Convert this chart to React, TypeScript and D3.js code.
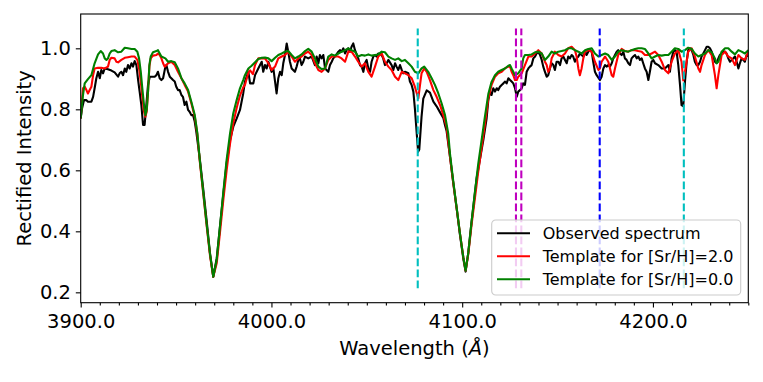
import React, { useEffect, useRef } from "react";
import * as d3 from "d3";

// wavelength (A), rectified intensity
const observed: [number, number][] = [
  [3900.0, 0.770], [3900.7, 0.803], [3901.7, 0.830], [3903.0, 0.830], [3903.8, 0.825], [3905.6, 0.825], [3906.5, 0.841],
  [3907.3, 0.869], [3908.2, 0.902], [3909.1, 0.923], [3910.0, 0.902], [3910.8, 0.929], [3911.7, 0.918], [3912.6, 0.934],
  [3914.3, 0.931], [3916.1, 0.927], [3917.8, 0.921], [3919.6, 0.907], [3920.4, 0.918], [3921.3, 0.923], [3922.2, 0.912],
  [3923.1, 0.934], [3923.9, 0.923], [3924.8, 0.945], [3925.7, 0.934], [3926.6, 0.951], [3927.4, 0.940], [3928.3, 0.958],
  [3929.2, 0.945], [3930.1, 0.896], [3930.9, 0.858], [3931.8, 0.814], [3932.7, 0.749], [3933.5, 0.749], [3934.4, 0.814],
  [3935.3, 0.880], [3936.2, 0.907], [3937.0, 0.907], [3938.8, 0.907], [3939.7, 0.912], [3940.5, 0.923], [3941.4, 0.902],
  [3942.3, 0.896], [3943.2, 0.902], [3944.4, 0.940], [3944.9, 0.945], [3945.8, 0.923], [3946.7, 0.907], [3947.5, 0.902],
  [3948.4, 0.896], [3949.3, 0.891], [3950.1, 0.874], [3951.0, 0.863], [3951.9, 0.863], [3952.8, 0.847], [3953.6, 0.841],
  [3954.5, 0.814], [3955.4, 0.825], [3956.3, 0.798], [3957.1, 0.792], [3958.0, 0.781], [3958.9, 0.781], [3959.8, 0.759],
  [3960.6, 0.727], [3962.5, 0.634], [3964.3, 0.535], [3966.0, 0.437], [3967.8, 0.328], [3969.5, 0.251], [3971.3, 0.311],
  [3973.0, 0.415], [3974.8, 0.524], [3976.5, 0.623], [3978.3, 0.699], [3980.0, 0.743], [3981.8, 0.770], [3983.5, 0.798],
  [3985.2, 0.852], [3986.1, 0.891], [3987.9, 0.923], [3988.8, 0.885], [3990.5, 0.885], [3991.4, 0.912], [3993.1, 0.934],
  [3994.9, 0.956], [3995.7, 0.923], [3996.6, 0.945], [3997.5, 0.934], [3998.4, 0.956], [3999.2, 0.940], [4000.1, 0.923],
  [4001.0, 0.934], [4001.9, 0.891], [4002.7, 0.852], [4003.6, 0.902], [4004.5, 0.923], [4005.4, 0.912], [4006.2, 0.951],
  [4007.1, 0.978], [4008.0, 1.016], [4008.8, 0.989], [4009.7, 0.956], [4010.6, 0.934], [4012.3, 0.923], [4013.2, 0.940],
  [4014.1, 0.962], [4014.9, 0.967], [4015.8, 0.945], [4016.7, 0.956], [4017.6, 0.973], [4019.3, 0.967], [4021.1, 0.973],
  [4022.8, 0.945], [4023.7, 0.973], [4024.6, 0.951], [4025.4, 0.978], [4026.3, 0.967], [4027.2, 0.978], [4028.1, 0.934],
  [4029.8, 0.923], [4030.7, 0.945], [4031.6, 0.956], [4032.4, 0.967], [4033.3, 0.973], [4035.1, 0.989], [4035.9, 0.994],
  [4036.8, 0.989], [4037.7, 1.000], [4038.6, 0.983], [4039.4, 0.994], [4040.3, 1.000], [4041.2, 0.989], [4042.0, 1.005],
  [4042.9, 1.016], [4043.8, 0.994], [4045.5, 0.967], [4046.4, 0.945], [4047.3, 0.940], [4048.2, 0.923], [4049.0, 0.951],
  [4049.9, 0.962], [4050.8, 0.934], [4051.7, 0.923], [4052.5, 0.956], [4053.4, 0.973], [4054.3, 0.978], [4055.1, 0.973],
  [4056.0, 0.983], [4057.8, 0.978], [4058.6, 0.967], [4059.5, 0.945], [4060.4, 0.951], [4061.3, 0.962], [4063.0, 0.945],
  [4063.9, 0.929], [4064.8, 0.951], [4065.6, 0.940], [4066.5, 0.929], [4067.4, 0.945], [4068.3, 0.929], [4069.1, 0.918],
  [4070.0, 0.923], [4071.8, 0.918], [4072.6, 0.891], [4073.5, 0.880], [4074.4, 0.858], [4075.2, 0.803], [4076.1, 0.727],
  [4076.9, 0.661], [4077.5, 0.668], [4078.7, 0.776], [4079.6, 0.835], [4081.4, 0.862], [4083.1, 0.855], [4084.9, 0.825],
  [4086.6, 0.810], [4088.4, 0.790], [4090.1, 0.772], [4091.0, 0.748], [4091.8, 0.730], [4093.6, 0.645], [4095.3, 0.560],
  [4097.1, 0.475], [4098.8, 0.390], [4100.6, 0.310], [4101.8, 0.268], [4103.2, 0.330], [4104.9, 0.430], [4106.2, 0.500],
  [4107.6, 0.575], [4109.3, 0.635], [4111.1, 0.700], [4112.8, 0.770], [4113.7, 0.830], [4114.6, 0.858], [4115.4, 0.847],
  [4116.3, 0.869], [4117.2, 0.858], [4118.1, 0.869], [4118.9, 0.863], [4119.8, 0.874], [4120.7, 0.880], [4121.6, 0.885],
  [4122.4, 0.891], [4123.3, 0.885], [4124.2, 0.902], [4125.1, 0.896], [4125.9, 0.891], [4126.8, 0.885], [4127.7, 0.869],
  [4128.6, 0.841], [4129.4, 0.858], [4130.3, 0.863], [4131.2, 0.869], [4132.0, 0.885], [4132.9, 0.880], [4133.8, 0.923],
  [4134.7, 0.934], [4135.5, 0.940], [4136.4, 0.945], [4137.3, 0.967], [4138.2, 0.973], [4139.0, 0.983], [4139.9, 0.989],
  [4140.8, 0.978], [4141.7, 0.962], [4142.5, 0.940], [4143.4, 0.923], [4144.3, 0.907], [4145.1, 0.912], [4146.0, 0.934],
  [4146.9, 0.951], [4147.8, 0.945], [4148.6, 0.929], [4149.5, 0.956], [4150.4, 0.956], [4151.3, 0.945], [4152.1, 0.967],
  [4153.0, 0.973], [4153.9, 0.962], [4154.8, 0.951], [4155.6, 0.973], [4156.5, 0.967], [4157.4, 0.978], [4158.2, 0.973],
  [4159.1, 0.956], [4160.0, 0.967], [4160.9, 0.973], [4161.7, 0.983], [4162.6, 0.978], [4163.5, 0.973], [4164.4, 0.989],
  [4165.2, 0.978], [4166.1, 0.989], [4167.0, 0.994], [4167.9, 0.989], [4168.7, 0.956], [4169.6, 0.923], [4170.5, 0.912],
  [4172.2, 0.896], [4173.1, 0.907], [4174.0, 0.934], [4174.9, 0.945], [4175.7, 0.940], [4176.6, 0.945], [4177.5, 0.940],
  [4178.4, 0.951], [4179.2, 0.967], [4180.1, 0.978], [4181.0, 0.989], [4181.8, 0.994], [4182.7, 0.983], [4183.6, 0.978],
  [4184.5, 0.989], [4185.3, 0.967], [4186.2, 0.962], [4187.1, 0.951], [4188.0, 0.945], [4188.8, 0.967], [4189.7, 0.973],
  [4190.6, 0.978], [4191.5, 0.967], [4192.3, 0.973], [4193.2, 0.962], [4194.1, 0.967], [4194.9, 0.951], [4195.8, 0.934],
  [4196.7, 0.923], [4197.6, 0.896], [4198.4, 0.923], [4199.3, 0.956], [4200.2, 0.962], [4201.1, 0.951], [4202.8, 0.945],
  [4204.6, 0.934], [4206.3, 0.934], [4208.1, 0.945], [4208.9, 0.923], [4209.8, 0.967], [4210.7, 0.989], [4211.5, 0.994],
  [4212.4, 0.989], [4213.3, 0.945], [4214.2, 0.880], [4215.0, 0.814], [4215.9, 0.810], [4216.8, 0.891], [4217.7, 0.956],
  [4218.5, 0.994], [4219.4, 1.000], [4220.3, 0.994], [4221.2, 0.978], [4222.0, 0.956], [4222.9, 0.945], [4223.8, 0.945],
  [4224.7, 0.956], [4225.5, 0.973], [4226.4, 0.983], [4227.3, 0.994], [4228.2, 1.005], [4229.0, 1.005], [4229.9, 1.000],
  [4230.8, 0.989], [4231.6, 0.973], [4232.5, 0.956], [4233.4, 0.951], [4234.3, 0.967], [4235.1, 0.978], [4236.0, 0.983],
  [4236.9, 0.989], [4237.8, 0.989], [4238.6, 0.983], [4239.5, 0.967], [4240.4, 0.956], [4241.3, 0.962], [4242.1, 0.967],
  [4243.0, 0.973], [4243.9, 0.956], [4244.8, 0.934], [4245.6, 0.951], [4246.5, 0.967], [4247.4, 0.962], [4248.2, 0.956],
  [4249.1, 0.978], [4250.0, 0.973],
];

const templateSr2: [number, number][] = [
  [3900.0, 0.770], [3901.2, 0.869], [3902.1, 0.874], [3903.0, 0.863], [3903.8, 0.852], [3904.7, 0.863], [3905.6, 0.874],
  [3906.5, 0.912], [3907.3, 0.934], [3909.1, 0.936], [3910.8, 0.936], [3912.6, 0.934], [3914.3, 0.940], [3915.2, 0.962],
  [3916.1, 0.969], [3917.8, 0.967], [3918.7, 0.956], [3919.6, 0.954], [3921.3, 0.962], [3923.1, 0.969], [3924.8, 0.971],
  [3926.6, 0.973], [3928.3, 0.973], [3929.7, 0.962], [3930.6, 0.934], [3931.5, 0.891], [3932.3, 0.841], [3933.2, 0.792],
  [3933.9, 0.776], [3934.6, 0.792], [3935.3, 0.858], [3936.0, 0.940], [3936.7, 0.967], [3937.9, 0.976], [3939.7, 0.978],
  [3940.5, 0.983], [3941.4, 0.978], [3942.3, 0.967], [3943.2, 0.951], [3944.0, 0.940], [3944.9, 0.945], [3945.8, 0.951],
  [3947.5, 0.956], [3949.3, 0.945], [3951.0, 0.923], [3952.8, 0.902], [3954.5, 0.880], [3956.3, 0.858], [3958.0, 0.820],
  [3959.8, 0.776], [3961.2, 0.715], [3962.5, 0.625], [3964.3, 0.520], [3966.0, 0.420], [3967.8, 0.320], [3969.5, 0.251],
  [3971.3, 0.295], [3973.0, 0.395], [3974.8, 0.505], [3976.5, 0.600], [3978.3, 0.688], [3980.0, 0.755], [3981.8, 0.805],
  [3983.5, 0.845], [3985.2, 0.872], [3986.1, 0.880], [3987.9, 0.920], [3988.8, 0.928], [3990.3, 0.915], [3991.4, 0.945],
  [3993.1, 0.967], [3994.9, 0.967], [3996.6, 0.967], [3998.4, 0.951], [4000.1, 0.929], [4001.9, 0.940], [4003.6, 0.967],
  [4005.4, 0.973], [4007.1, 0.978], [4008.8, 0.989], [4010.6, 0.973], [4012.3, 0.956], [4014.1, 0.967], [4015.8, 0.973],
  [4017.6, 0.983], [4019.3, 0.989], [4021.1, 0.978], [4022.8, 0.951], [4024.6, 0.929], [4026.3, 0.923], [4028.1, 0.934],
  [4029.8, 0.962], [4031.6, 0.973], [4033.3, 0.973], [4035.1, 0.973], [4036.8, 0.967], [4038.6, 0.956], [4040.3, 0.989],
  [4042.0, 0.989], [4043.8, 0.973], [4045.5, 0.956], [4047.3, 0.940], [4049.0, 0.951], [4050.8, 0.923], [4052.5, 0.907],
  [4054.3, 0.940], [4056.0, 0.973], [4057.8, 0.983], [4059.5, 0.956], [4061.3, 0.940], [4063.0, 0.929], [4064.8, 0.907],
  [4066.5, 0.896], [4068.3, 0.923], [4070.0, 0.918], [4071.8, 0.912], [4073.5, 0.902], [4075.2, 0.874], [4077.0, 0.836],
  [4077.9, 0.880], [4078.7, 0.918], [4080.1, 0.934], [4081.4, 0.923], [4083.1, 0.896], [4084.9, 0.863], [4086.6, 0.841],
  [4088.4, 0.814], [4090.1, 0.781], [4091.8, 0.743], [4093.6, 0.645], [4095.3, 0.560], [4097.1, 0.475], [4098.8, 0.395],
  [4100.6, 0.315], [4101.8, 0.271], [4103.2, 0.325], [4104.9, 0.420], [4106.7, 0.510], [4108.4, 0.595], [4110.2, 0.675],
  [4111.9, 0.750], [4113.7, 0.835], [4115.4, 0.880], [4117.2, 0.907], [4118.9, 0.918], [4120.7, 0.923], [4122.4, 0.934],
  [4124.2, 0.940], [4125.1, 0.940], [4125.9, 0.923], [4126.8, 0.912], [4127.7, 0.896], [4128.6, 0.896], [4129.4, 0.907],
  [4130.3, 0.912], [4131.2, 0.918], [4132.9, 0.945], [4134.7, 0.973], [4136.4, 0.973], [4138.2, 0.983], [4139.9, 0.994],
  [4141.7, 0.983], [4143.4, 0.956], [4144.3, 0.945], [4145.1, 0.923], [4146.0, 0.934], [4146.9, 0.967], [4148.6, 0.989],
  [4150.4, 0.978], [4152.1, 0.973], [4153.9, 0.983], [4155.6, 1.000], [4157.4, 1.005], [4159.1, 0.994], [4160.0, 0.973],
  [4160.9, 0.934], [4161.7, 0.912], [4162.6, 0.934], [4163.5, 0.967], [4164.4, 0.989], [4166.1, 0.994], [4167.9, 0.989],
  [4169.6, 0.956], [4171.4, 0.929], [4172.2, 0.934], [4173.1, 0.956], [4174.9, 0.973], [4176.6, 0.956], [4178.4, 0.912],
  [4179.2, 0.907], [4180.1, 0.934], [4181.8, 0.978], [4183.6, 0.998], [4185.3, 0.991], [4187.1, 0.989], [4188.8, 0.994],
  [4190.6, 0.994], [4192.3, 0.991], [4194.1, 0.989], [4195.8, 0.978], [4197.6, 0.978], [4199.3, 0.983], [4201.1, 0.989],
  [4202.8, 0.978], [4204.6, 0.956], [4206.3, 0.929], [4208.1, 0.918], [4209.8, 0.956], [4211.5, 0.983], [4213.3, 0.994],
  [4215.0, 0.956], [4215.9, 0.895], [4216.8, 0.923], [4218.5, 0.989], [4220.3, 1.000], [4222.0, 0.973], [4223.8, 0.934],
  [4224.7, 0.923], [4225.5, 0.945], [4227.3, 0.978], [4229.0, 0.994], [4230.8, 0.978], [4232.5, 0.912], [4233.4, 0.869],
  [4234.3, 0.912], [4236.0, 0.978], [4237.8, 0.989], [4239.5, 0.973], [4241.3, 0.967], [4243.0, 0.945], [4244.8, 0.978],
  [4246.5, 0.967], [4248.2, 0.962], [4250.0, 0.989],
];

const templateSr0: [number, number][] = [
  [3900.0, 0.770], [3901.2, 0.847], [3902.1, 0.885], [3903.8, 0.899], [3905.6, 0.912], [3907.3, 0.951], [3909.1, 0.980],
  [3910.5, 0.991], [3911.7, 0.983], [3912.6, 0.967], [3913.5, 0.962], [3914.3, 0.967], [3915.2, 0.983], [3916.1, 0.991],
  [3917.8, 0.994], [3919.6, 0.987], [3921.3, 0.989], [3923.1, 1.002], [3924.8, 1.000], [3926.6, 0.998], [3928.3, 0.998],
  [3929.7, 0.989], [3930.6, 0.967], [3931.5, 0.923], [3932.3, 0.869], [3933.2, 0.814], [3933.9, 0.781], [3934.6, 0.798],
  [3935.3, 0.858], [3936.0, 0.945], [3936.7, 0.973], [3937.9, 0.987], [3939.7, 0.991], [3940.5, 0.994], [3942.3, 0.973],
  [3944.4, 0.967], [3945.8, 0.956], [3947.5, 0.958], [3949.3, 0.954], [3951.0, 0.934], [3952.8, 0.902], [3954.5, 0.885],
  [3956.3, 0.863], [3958.0, 0.825], [3959.8, 0.781], [3961.2, 0.720], [3962.5, 0.630], [3964.3, 0.525], [3966.0, 0.425],
  [3967.8, 0.325], [3969.5, 0.251], [3971.3, 0.306], [3973.0, 0.415], [3974.8, 0.530], [3976.5, 0.634], [3978.3, 0.721],
  [3980.0, 0.787], [3981.8, 0.831], [3983.5, 0.869], [3985.2, 0.896], [3986.1, 0.912], [3987.9, 0.934], [3989.6, 0.943],
  [3991.4, 0.954], [3993.1, 0.965], [3994.9, 0.969], [3996.6, 0.970], [3998.4, 0.967], [4000.1, 0.958], [4001.9, 0.969],
  [4003.6, 0.978], [4005.4, 0.983], [4007.1, 0.989], [4008.8, 0.991], [4010.6, 0.978], [4012.3, 0.967], [4014.1, 0.973],
  [4015.8, 0.980], [4017.6, 0.991], [4019.3, 0.998], [4021.1, 0.989], [4022.8, 0.967], [4024.6, 0.940], [4026.3, 0.932],
  [4028.1, 0.934], [4029.8, 0.973], [4031.6, 0.980], [4033.3, 0.976], [4035.1, 0.983], [4036.8, 0.989], [4038.6, 0.994],
  [4040.3, 1.000], [4042.0, 0.994], [4043.8, 0.989], [4045.5, 0.973], [4047.3, 0.978], [4049.0, 0.976], [4050.8, 0.980],
  [4052.5, 0.976], [4054.3, 0.978], [4056.0, 0.980], [4057.8, 0.989], [4059.5, 0.987], [4061.3, 0.973], [4063.0, 0.967],
  [4064.8, 0.962], [4066.5, 0.967], [4068.3, 0.958], [4070.0, 0.962], [4071.8, 0.951], [4073.5, 0.940], [4075.2, 0.923],
  [4077.0, 0.918], [4078.7, 0.934], [4080.1, 0.940], [4082.2, 0.923], [4084.0, 0.902], [4085.7, 0.880], [4087.5, 0.852],
  [4089.2, 0.820], [4091.0, 0.781], [4092.7, 0.720], [4093.6, 0.655], [4095.3, 0.565], [4097.1, 0.478], [4098.8, 0.395],
  [4100.6, 0.315], [4101.8, 0.271], [4103.2, 0.330], [4104.9, 0.430], [4106.7, 0.530], [4108.4, 0.620], [4110.2, 0.700],
  [4111.9, 0.775], [4113.7, 0.850], [4115.4, 0.890], [4117.2, 0.912], [4118.9, 0.923], [4120.7, 0.929], [4122.4, 0.934],
  [4124.2, 0.943], [4125.1, 0.945], [4125.9, 0.934], [4127.7, 0.912], [4129.4, 0.918], [4131.2, 0.934], [4132.0, 0.967],
  [4132.9, 0.978], [4134.7, 0.978], [4136.4, 0.980], [4138.2, 0.987], [4139.9, 0.989], [4141.7, 0.983], [4143.4, 0.962],
  [4145.1, 0.973], [4146.9, 0.989], [4148.6, 0.983], [4150.4, 0.989], [4152.1, 0.991], [4153.9, 0.994], [4155.6, 1.000],
  [4157.4, 1.000], [4159.1, 0.994], [4160.9, 0.989], [4162.6, 0.983], [4164.4, 0.994], [4166.1, 0.998], [4167.9, 1.000],
  [4169.6, 0.983], [4171.4, 0.973], [4173.1, 0.978], [4174.9, 0.983], [4176.6, 0.978], [4178.4, 0.962], [4180.1, 0.973],
  [4181.8, 0.989], [4183.6, 0.994], [4185.3, 0.991], [4187.1, 0.989], [4188.8, 0.994], [4190.6, 0.998], [4192.3, 1.000],
  [4194.1, 1.000], [4195.8, 0.998], [4197.6, 0.983], [4199.3, 0.967], [4201.1, 0.973], [4202.8, 0.978], [4204.6, 0.976],
  [4206.3, 0.978], [4208.1, 0.978], [4209.8, 0.989], [4211.5, 1.000], [4213.3, 0.998], [4215.0, 0.989], [4216.8, 0.994],
  [4218.5, 1.002], [4220.3, 0.998], [4222.0, 0.983], [4223.8, 0.973], [4225.5, 0.978], [4227.3, 0.983], [4229.0, 0.994],
  [4230.8, 0.987], [4232.5, 0.967], [4233.4, 0.951], [4234.3, 0.956], [4236.0, 0.989], [4237.8, 1.000], [4239.5, 1.000],
  [4241.3, 0.989], [4243.0, 0.980], [4244.8, 0.994], [4246.5, 0.989], [4248.2, 0.983], [4250.0, 0.994],
];

// marked line centres (A)
const srLines = [4076.7, 4216.2];
const pairLines = [4128.2, 4131.0];
const otherLines = [4172.1];

const xTicks = [3900, 4000, 4100, 4200];
const yTicks = [0.2, 0.4, 0.6, 0.8, 1.0];
const legendLabels = ["Observed spectrum", "Template for [Sr/H]=2.0", "Template for [Sr/H]=0.0"];

export default function App() {
  const ref = useRef<SVGSVGElement>(null);

  useEffect(() => {
    const width = 763, height = 382;
    const margin = { top: 14, right: 14.7, bottom: 79.3, left: 80.7 };
    const w = width - margin.left - margin.right;
    const h = height - margin.top - margin.bottom;
    const font = "'DejaVu Sans', sans-serif";

    const svg = d3.select(ref.current);
    svg.selectAll("*").remove();
    const g = svg.append("g").attr("transform", `translate(${margin.left},${margin.top})`);

    const x = d3.scaleLinear().domain([3900, 4250]).range([0, w]);
    const y = d3.scaleLinear().domain([0.166, 1.1125]).range([h, 0]);
    // axes fraction for the vertical markers
    const frac = d3.scaleLinear().domain([0, 1]).range([h, 0]);

    g.append("clipPath").attr("id", "plotclip")
      .append("rect").attr("width", w).attr("height", h);

    const line = d3.line<[number, number]>().x(d => x(d[0])).y(d => y(d[1]));
    const series = [
      { data: observed, color: "#000000" },
      { data: templateSr2, color: "#ff0000" },
      { data: templateSr0, color: "#008000" },
    ];
    const plot = g.append("g").attr("clip-path", "url(#plotclip)");
    series.forEach(s => {
      plot.append("path").datum(s.data)
        .attr("d", line)
        .attr("fill", "none")
        .attr("stroke", s.color)
        .attr("stroke-width", 2.1)
        .attr("stroke-linejoin", "round");
    });

    const marks = [
      ...srLines.map(v => ({ v, c: "#00bfbf" })),
      ...pairLines.map(v => ({ v, c: "#bf00bf" })),
      ...otherLines.map(v => ({ v, c: "#0000ff" })),
    ];
    plot.selectAll(".vline").data(marks).enter().append("line")
      .attr("class", "vline")
      .attr("x1", d => x(d.v)).attr("x2", d => x(d.v))
      .attr("y1", frac(0.05)).attr("y2", frac(0.95))
      .attr("stroke", d => d.c)
      .attr("stroke-width", 2.1)
      .attr("stroke-dasharray", "7.7,3.3");

    // x axis, major + minor
    const xAxis = g.append("g").attr("transform", `translate(0,${h})`)
      .call(d3.axisBottom(x).tickValues(xTicks).tickFormat(d3.format(".1f")).tickSize(4.9).tickPadding(6.3));
    const minor = d3.range(3900, 4251, 10).filter(v => v % 100 !== 0);
    const xMinor = g.append("g").attr("transform", `translate(0,${h})`)
      .call(d3.axisBottom(x).tickValues(minor).tickFormat(() => "").tickSize(2.8));
    const yAxis = g.append("g")
      .call(d3.axisLeft(y).tickValues(yTicks).tickFormat(d3.format(".1f")).tickSize(4.9).tickPadding(4.9));

    [xAxis, xMinor, yAxis].forEach(a => {
      a.select(".domain").remove();
      a.selectAll("line").attr("stroke", "#000").attr("stroke-width", 1.1);
      a.selectAll("text").attr("fill", "#000").style("font-family", font).style("font-size", "19.5px");
    });
    yAxis.selectAll("text").attr("dy", "0.34em");

    g.append("rect").attr("width", w).attr("height", h)
      .attr("fill", "none").attr("stroke", "#000").attr("stroke-width", 1.1);

    // axis labels
    const xl = svg.append("text")
      .attr("x", margin.left + w / 2).attr("y", 355)
      .attr("text-anchor", "middle")
      .style("font-family", font).style("font-size", "19.5px");
    xl.append("tspan").text("Wavelength (");
    xl.append("tspan").style("font-style", "italic").text("\u00c5");
    xl.append("tspan").text(")");

    svg.append("text")
      .attr("transform", `translate(30.5,${margin.top + h / 2}) rotate(-90)`)
      .attr("text-anchor", "middle")
      .style("font-family", font).style("font-size", "19.5px")
      .text("Rectified Intensity");

    // legend, lower right
    const lg = g.append("g").attr("transform", `translate(${w - 7.6 - 249},${h - 7.7 - 75})`);
    lg.append("rect").attr("width", 249).attr("height", 75).attr("rx", 4)
      .attr("fill", "#ffffff").attr("fill-opacity", 0.8)
      .attr("stroke", "#cccccc").attr("stroke-width", 1.1);
    series.forEach((s, i) => {
      const cy = 13.3 + i * 23;
      lg.append("line").attr("x1", 5.3).attr("x2", 38.3).attr("y1", cy).attr("y2", cy)
        .attr("stroke", s.color).attr("stroke-width", 2.1);
      lg.append("text").attr("x", 51).attr("y", cy + 5.6)
        .style("font-family", font).style("font-size", "16px")
        .text(legendLabels[i]);
    });
  }, []);

  return <svg ref={ref} width={763} height={382} style={{ position: "absolute", left: 0, top: 0 }} />;
}
